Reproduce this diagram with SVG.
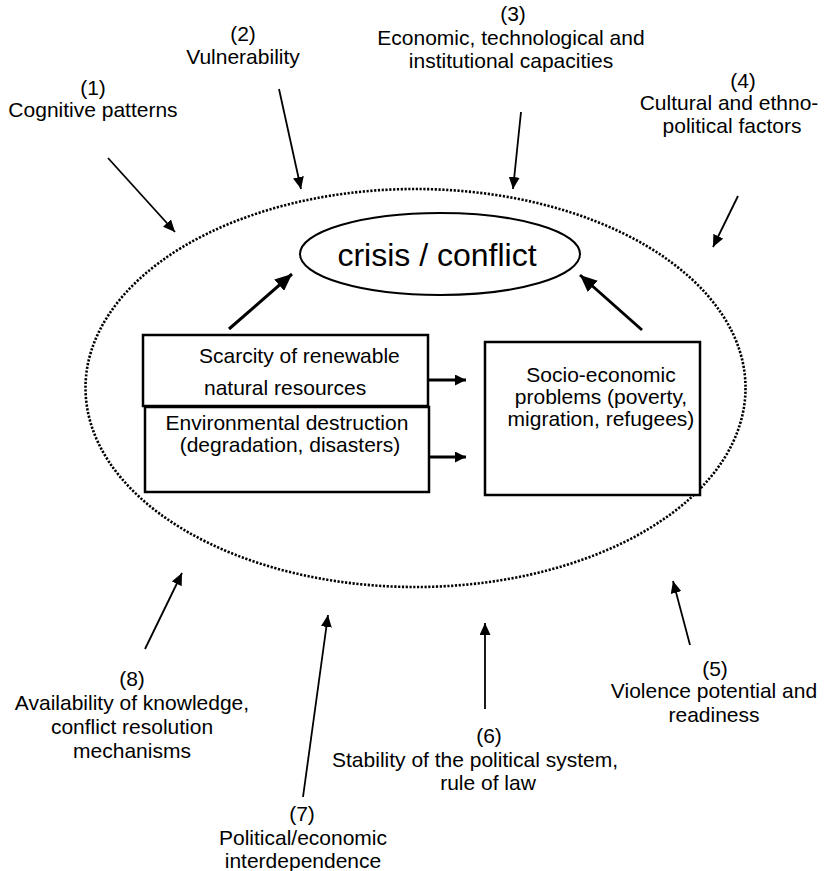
<svg xmlns="http://www.w3.org/2000/svg" width="830" height="871" viewBox="0 0 830 871">
<style>
text{font-family:"Liberation Sans",Arial,sans-serif;font-size:21px;fill:#000;text-anchor:middle}
.box{fill:#fff;stroke:#000;stroke-width:2.5}
.thin{stroke:#000;stroke-width:1.8;fill:none}
.thick{stroke:#000;stroke-width:3;fill:none}
</style>
<defs>
<marker id="ah" markerUnits="userSpaceOnUse" markerWidth="12" markerHeight="11" refX="12" refY="5.5" orient="auto"><path d="M0,0 L12,5.5 L0,11 z" fill="#000"/></marker>
<marker id="ahb" markerUnits="userSpaceOnUse" markerWidth="17" markerHeight="15" refX="17" refY="7.5" orient="auto"><path d="M0,0 L17,7.5 L0,15 z" fill="#000"/></marker>
<marker id="ahs" markerUnits="userSpaceOnUse" markerWidth="11" markerHeight="11" refX="11" refY="5.5" orient="auto"><path d="M0,0 L11,5.5 L0,11 z" fill="#000"/></marker>
</defs>
<g id="context">
<ellipse cx="415.5" cy="388" rx="330" ry="199" fill="none" stroke="#000" stroke-width="2.6" stroke-dasharray="2.2 1.6"/>
</g>
<g id="crisis">
<ellipse cx="440" cy="254" rx="140" ry="41" fill="#fff" stroke="#000" stroke-width="2"/>
<text x="437" y="266" style="font-size:32px">crisis / conflict</text>
</g>
<g id="scarcity">
<rect class="box" x="143" y="335" width="285" height="71"/>
<text x="199" y="363" style="text-anchor:start">Scarcity of renewable</text>
<text x="204" y="395" style="text-anchor:start">natural resources</text>
</g>
<g id="environment">
<rect class="box" x="145" y="407" width="284" height="85"/>
<text x="287" y="430">Environmental destruction</text>
<text x="290" y="452">(degradation, disasters)</text>
</g>
<g id="socio">
<rect class="box" x="485" y="342" width="215" height="153"/>
<text x="601" y="382">Socio-economic</text>
<text x="601" y="404">problems (poverty,</text>
<text x="601" y="426">migration, refugees)</text>
</g>
<g id="f1"><text x="93" y="95">(1)</text><text x="93" y="117">Cognitive patterns</text></g>
<g id="f2"><text x="243" y="41">(2)</text><text x="243" y="64">Vulnerability</text></g>
<g id="f3"><text x="513" y="21">(3)</text><text x="511" y="45">Economic, technological and</text><text x="511" y="68">institutional capacities</text></g>
<g id="f4"><text x="743" y="88">(4)</text><text x="729" y="110">Cultural and ethno-</text><text x="732" y="133">political factors</text></g>
<g id="f5"><text x="715" y="676">(5)</text><text x="714" y="698">Violence potential and</text><text x="714" y="722">readiness</text></g>
<g id="f6"><text x="489" y="743">(6)</text><text x="475" y="767">Stability of the political system,</text><text x="488" y="790">rule of law</text></g>
<g id="f7"><text x="302" y="821">(7)</text><text x="303" y="845">Political/economic</text><text x="303" y="868">interdependence</text></g>
<g id="f8"><text x="132" y="686">(8)</text><text x="132" y="710">Availability of knowledge,</text><text x="132" y="734">conflict resolution</text><text x="132" y="758">mechanisms</text></g>
<g id="connectors">
<line class="thin" x1="108" y1="158" x2="175" y2="232" marker-end="url(#ah)"/>
<line class="thin" x1="279" y1="89" x2="301" y2="189" marker-end="url(#ah)"/>
<line class="thin" x1="521" y1="112" x2="513" y2="189" marker-end="url(#ah)"/>
<line class="thin" x1="738" y1="196" x2="713" y2="247" marker-end="url(#ah)"/>
<line class="thin" x1="145" y1="649" x2="182" y2="573" marker-end="url(#ah)"/>
<line class="thin" x1="303" y1="797" x2="328" y2="615" marker-end="url(#ah)"/>
<line class="thin" x1="485" y1="709" x2="485" y2="623" marker-end="url(#ah)"/>
<line class="thin" x1="690" y1="645" x2="673" y2="581" marker-end="url(#ah)"/>
<line class="thick" x1="229" y1="329" x2="292" y2="274" marker-end="url(#ahb)"/>
<line class="thick" x1="642" y1="330" x2="580" y2="275" marker-end="url(#ahb)"/>
<line class="thick" x1="428" y1="380" x2="466" y2="380" marker-end="url(#ahs)"/>
<line class="thick" x1="429" y1="457" x2="466" y2="457" marker-end="url(#ahs)"/>
</g>
</svg>
